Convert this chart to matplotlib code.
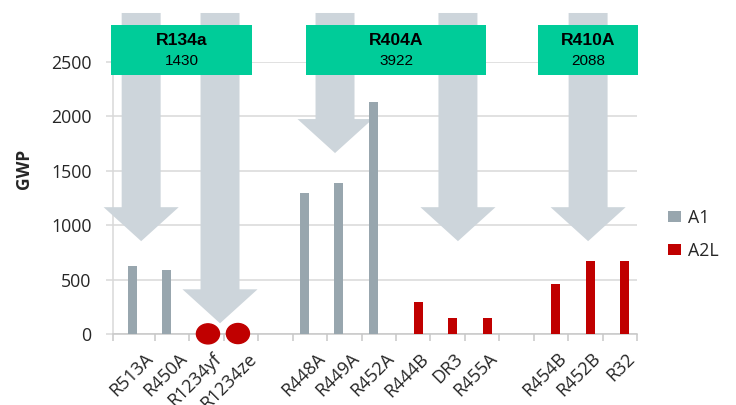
import numpy as np
import matplotlib
matplotlib.use("Agg")
import matplotlib.pyplot as plt
from matplotlib.patches import Polygon, Rectangle, Ellipse
from matplotlib.transforms import ScaledTranslation

nan = np.nan
categories = ["R513A", "R450A", "R1234yf", "R1234ze", "", "R448A", "R449A", "R452A",
              "R444B", "DR3", "R455A", "", "R454B", "R452B", "R32"]
a1_values = [630, 590, nan, nan, nan, 1300, 1386, 2133, nan, nan, nan, nan, nan, nan, nan]
a2l_values = [nan, nan, nan, nan, nan, nan, nan, nan, 294, 147, 147, nan, 462, 675, 675]
dot_categories = ["R1234yf", "R1234ze"]
dot_values = [4, 7]
y_ticks = [0, 500, 1000, 1500, 2000, 2500]

old_refrigerants = ["R134a", "R404A", "R410A"]
old_gwp = ["1430", "3922", "2088"]

C_A1 = "#98a6ae"
C_A2L = "#c00000"
C_ARROW = "#cdd5db"
C_BOX = "#00cc99"
C_GRID = "#d9d9d9"
C_TEXT = "#262626"

plt.rcParams["font.family"] = ["Open Sans", "DejaVu Sans"]

fig = plt.figure(figsize=(7.36, 4.05), dpi=100)
W, H = 736, 405
ax = fig.add_axes([113 / W, 1 - 334.3 / H, 524 / W, 272.3 / H])

x = np.arange(len(categories))
bw = 0.26
b1 = ax.bar(x - 0.165, a1_values, width=bw, color=C_A1, zorder=3, label="A1")
b2 = ax.bar(x + 0.145, a2l_values, width=bw, color=C_A2L, zorder=3, label="A2L")

# red dots for very low GWP refrigerants
dot_shift = [0.04, -0.09]
for name, v, s in zip(dot_categories, dot_values, dot_shift):
    xi = categories.index(name) + s
    ax.add_patch(Ellipse((xi, v), 0.67, 184, color=C_A2L, zorder=3.5, clip_on=False))

ax.set_xlim(-0.718, 14.5)
ax.set_ylim(0, 2500)

# decorative arrows (centre x in slot units, tip in GWP units)
arrow_x = [0.1, 2.39, 5.73, 9.3, 13.08]
arrow_tip = [855, 101, 1664, 855, 855]
top = 2950
head_h = 312
sh, hh = 0.566, 1.09
for ax_c, tip in zip(arrow_x, arrow_tip):
    base = tip + head_h
    pts = [(ax_c - sh, top), (ax_c + sh, top), (ax_c + sh, base), (ax_c + hh, base),
           (ax_c, tip), (ax_c - hh, base), (ax_c - sh, base)]
    ax.add_patch(Polygon(pts, closed=True, facecolor=C_ARROW, edgecolor="none",
                         zorder=2.6, clip_on=False))

# green boxes
box_x = [(-0.776, 3.32), (4.89, 10.11), (11.63, 14.53)]
for (x0, x1), name, g in zip(box_x, old_refrigerants, old_gwp):
    ax.add_patch(Rectangle((x0, 2381), x1 - x0, 459, facecolor=C_BOX, edgecolor="none",
                           zorder=4, clip_on=False))
    xc = (x0 + x1) / 2
    ax.text(xc, 2693, name, ha="center", va="center", fontsize=12.6, fontweight="bold",
            family="Liberation Sans", color="black", zorder=5)
    ax.text(xc, 2505, g, ha="center", va="center", fontsize=11,
            family="Liberation Sans", color="black", zorder=5)

# axes styling
ax.set_yticks(y_ticks)
ax.yaxis.grid(True, color=C_GRID, linewidth=1.1)
ax.set_axisbelow(True)
ax.tick_params(axis="y", length=5, width=1.1, color=C_GRID, pad=10.5,
               labelsize=12.8, labelcolor=C_TEXT)
for s in ["top", "right"]:
    ax.spines[s].set_visible(False)
ax.spines["left"].set_color(C_GRID)
ax.spines["left"].set_linewidth(1.1)
ax.spines["bottom"].set_color("#c8c8c8")
ax.spines["bottom"].set_linewidth(1.1)

ax.set_xticks(x)
ax.set_xticklabels(categories, rotation=45, ha="right", va="top", rotation_mode="anchor",
                   fontsize=13, color=C_TEXT)
ax.tick_params(axis="x", which="major", length=0, pad=11)
off = ScaledTranslation(6 / 100, 0, fig.dpi_scale_trans)
for lab in ax.get_xticklabels():
    lab.set_transform(lab.get_transform() + off)
ax.set_xticks([-0.718] + [i + 0.5 for i in range(len(categories))], minor=True)
ax.tick_params(axis="x", which="minor", length=5, width=1.1, color="#c8c8c8")

ax.set_ylabel("GWP", fontsize=12.5, fontweight="bold", color=C_TEXT)
ax.yaxis.set_label_coords(-0.152, 0.607)

ax.legend([b1, b2], ["A1", "A2L"], loc="upper left",
          bbox_to_anchor=(668 / W, 1 - 209 / H), bbox_transform=fig.transFigure,
          frameon=False, borderpad=0, borderaxespad=0, handlelength=0.75,
          handleheight=0.55, handletextpad=0.35, labelspacing=0.85, fontsize=12.8,
          labelcolor=C_TEXT)

fig.savefig("out.png", dpi=100)
